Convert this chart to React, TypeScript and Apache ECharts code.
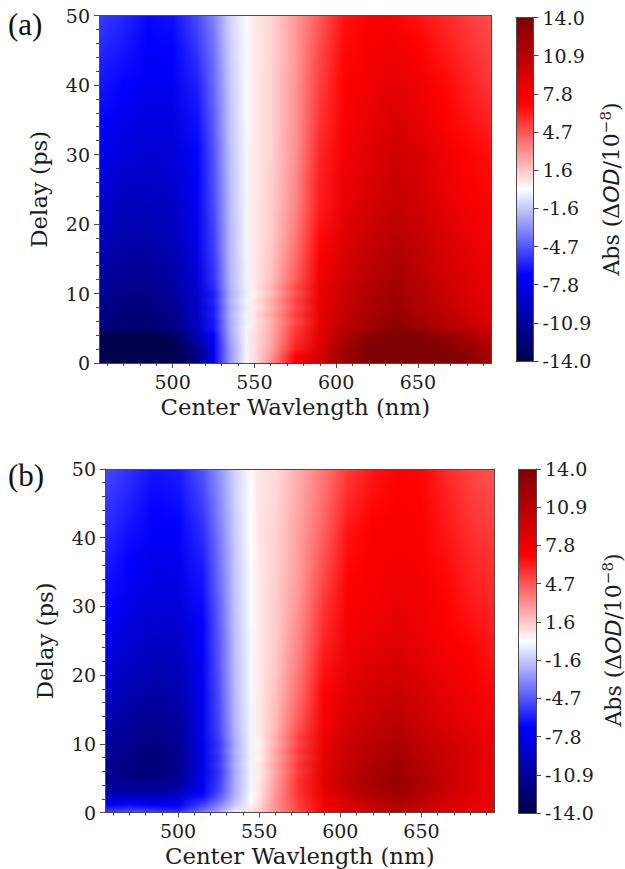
import React, { useEffect, useRef } from "react";
import * as echarts from "echarts";

const wavelengths = [455, 470, 485, 500, 515, 525, 535, 545, 550, 560, 575, 590, 605, 620, 635, 650, 665, 680, 695];
const delays = [0, 1, 2, 3, 4, 5, 6, 7, 8, 9, 10, 11, 12, 14, 16, 18, 20, 23, 26, 30, 35, 40, 45, 50];

const panelA = [
  [-14, -14, -14, -14, -12, -7.6, -3, -0.2, 0.9, 3.2, 7.4, 9.8, 12.6, 14, 14, 14, 14, 13.6, 12],
  [-14, -14, -14, -14, -12, -7.8, -3, -0.3, 0.9, 2.8, 7, 9.5, 12.4, 14, 14, 14, 14, 13.2, 11.6],
  [-14, -14, -14, -14, -11.6, -7.6, -3, -0.3, 0.9, 2.5, 6.2, 9.1, 12.2, 14, 14, 14, 14, 13, 11.4],
  [-14, -14, -14, -13.8, -11, -7.3, -2.8, -0.3, 0.9, 2.3, 5.8, 8.8, 11.8, 13.8, 14, 14, 13.6, 12.4, 10.9],
  [-13.8, -14, -14, -13.2, -10.2, -7, -2.6, -0.3, 0.9, 2.3, 5.6, 8.5, 11.4, 13.2, 14, 13.9, 12.8, 11.6, 10.3],
  [-12.2, -12.6, -12.6, -12, -9.6, -6.4, -2.4, -0.2, 0.8, 2.2, 5.4, 8.4, 10.8, 12.2, 13.5, 12.8, 11.6, 10.6, 9.6],
  [-12, -12.4, -12.4, -11.8, -9.4, -6.5, -2.5, -0.4, 0.6, 2.1, 4.9, 8.2, 10.5, 12, 13, 12, 11, 10, 9],
  [-11.8, -12.2, -12.2, -11.6, -9.3, -6.2, -2.2, -0.3, 0.8, 2.4, 5.3, 8.3, 10.3, 11.7, 12.7, 11.7, 10.7, 9.7, 8.8],
  [-11.6, -12, -12, -11.4, -9.2, -6.4, -2.5, -0.5, 0.5, 2, 4.8, 8.1, 10.2, 11.5, 12.5, 11.5, 10.4, 9.4, 8.6],
  [-11.4, -11.9, -11.9, -11.2, -9.1, -6.1, -2.2, -0.3, 0.7, 2.3, 5.2, 8.2, 10, 11.3, 12.3, 11.3, 10.2, 9.2, 8.3],
  [-11.2, -11.7, -11.7, -11, -9, -6.3, -2.4, -0.5, 0.4, 1.8, 4.6, 8, 9.9, 11.2, 12.2, 11.2, 10, 9, 8.2],
  [-11, -11.5, -11.5, -10.8, -8.8, -5.9, -2.2, -0.4, 0.6, 2, 5, 7.9, 9.8, 11, 12, 11, 9.9, 8.9, 8.1],
  [-10.8, -11.3, -11.3, -10.6, -8.6, -5.7, -2.1, -0.4, 0.6, 1.7, 4.4, 7.6, 9.6, 10.8, 11.8, 10.9, 9.8, 8.8, 8],
  [-10.4, -11, -11, -10.4, -8.4, -5.6, -2.1, -0.4, 0.6, 1.6, 4.2, 7.3, 9.4, 10.5, 11.5, 10.7, 9.5, 8.6, 7.9],
  [-10, -10.6, -10.6, -10.1, -8.1, -5.4, -2.05, -0.3, 0.6, 1.5, 3.9, 7, 9.1, 10.2, 11.2, 10.5, 9.3, 8.4, 7.7],
  [-9.7, -10.3, -10.3, -9.8, -7.9, -5.3, -2, -0.3, 0.6, 1.4, 3.7, 6.8, 8.8, 9.9, 10.9, 10.2, 9.1, 8.2, 7.5],
  [-9.4, -10, -10, -9.6, -7.7, -5.2, -2, -0.3, 0.6, 1.4, 3.5, 6.5, 8.6, 9.6, 10.6, 10, 8.9, 8, 7.3],
  [-8.9, -9.6, -9.6, -9.3, -7.5, -5, -1.95, -0.3, 0.6, 1.3, 3.3, 6.3, 8.2, 9.2, 10.2, 9.6, 8.5, 7.6, 7],
  [-8.3, -9.1, -9.2, -9, -7.3, -4.9, -1.9, -0.3, 0.6, 1.3, 3.2, 6.2, 8, 8.9, 9.9, 9.4, 8.2, 7.3, 6.8],
  [-7.6, -8.4, -8.8, -8.6, -7, -4.8, -1.8, -0.3, 0.6, 1.2, 3, 6, 7.7, 8.6, 9.6, 9.1, 8, 7, 6.6],
  [-7, -7.7, -8.2, -8.1, -6.6, -4.5, -1.7, -0.2, 0.6, 1.2, 2.9, 5.6, 7.3, 8.2, 9, 8.4, 7.3, 6.6, 6],
  [-6.4, -7, -7.6, -7.6, -6.2, -4.2, -1.6, -0.2, 0.6, 1.2, 2.9, 5.3, 7, 7.8, 8.5, 7.9, 6.9, 6.2, 5.5],
  [-5.9, -6.5, -7.1, -7, -5.6, -3.9, -1.4, -0.2, 0.6, 1.1, 2.8, 5, 6.8, 7.5, 7.9, 7.2, 6.4, 5.8, 5.2],
  [-5.4, -6, -6.8, -6.6, -5, -3.5, -1.2, -0.1, 0.6, 1.1, 2.8, 4.6, 6.5, 7.1, 7.2, 6.5, 6, 5.4, 4.8],
];

const panelB = [
  [-5, -4.6, -5, -5.5, -3.6, -2.3, -0.3, 1, 1.5, 3, 5.2, 7.4, 8.6, 9.6, 10.3, 9.7, 9, 8.3, 7.8],
  [-6.8, -6.4, -6.8, -7, -5, -3.4, -1.4, 0.4, 1.1, 3, 5.4, 7.6, 9, 10.2, 11, 10.2, 9.3, 8.4, 7.9],
  [-8.8, -8.6, -8.8, -8.4, -6.2, -4.3, -2, 0, 0.8, 3, 5.6, 8, 9.6, 11, 11.8, 10.8, 9.6, 8.6, 8],
  [-10.2, -10.2, -10.4, -9.8, -7.2, -5, -2.3, -0.2, 0.7, 2.8, 5.8, 8.3, 10.2, 11.4, 12.3, 11.2, 9.9, 8.8, 8.1],
  [-11, -11.2, -11.4, -10.8, -7.7, -5.4, -2.3, -0.3, 0.7, 2.7, 5.8, 8.5, 10.5, 11.7, 12.5, 11.4, 10.2, 8.9, 8.1],
  [-11.4, -11.8, -12, -11.2, -7.8, -5.5, -2.3, -0.3, 0.6, 2.6, 5.8, 8.6, 10.6, 11.8, 12.6, 11.3, 10.2, 9, 8.1],
  [-11.4, -11.9, -12.2, -11.6, -7.9, -5.7, -2.4, -0.4, 0.5, 2.4, 5.5, 8.5, 10.4, 11.6, 12.4, 11.2, 10.1, 9, 8.1],
  [-11.3, -11.9, -12.2, -11.6, -7.9, -5.4, -2.2, -0.3, 0.6, 2.6, 5.7, 8.4, 10.3, 11.4, 12.2, 11, 10, 8.9, 8.1],
  [-11.2, -11.8, -12.2, -11.6, -7.9, -5.7, -2.4, -0.4, 0.4, 2.3, 5.3, 8.3, 10.1, 11.2, 12, 10.8, 9.9, 8.9, 8],
  [-11, -11.6, -12, -11.5, -7.9, -5.4, -2.2, -0.3, 0.5, 2.5, 5.6, 8.3, 10, 11, 11.8, 10.6, 9.8, 8.9, 8],
  [-10.8, -11.4, -11.9, -11.4, -7.9, -5.6, -2.4, -0.4, 0.4, 2.1, 5.2, 8.2, 9.9, 10.9, 11.5, 10.4, 9.6, 8.8, 8],
  [-10.6, -11.2, -11.7, -11.3, -7.9, -5.3, -2.2, -0.3, 0.5, 2.3, 5.4, 8, 9.7, 10.6, 11.2, 10.2, 9.4, 8.6, 7.8],
  [-10.4, -11, -11.5, -11.1, -7.9, -5.2, -2.1, -0.3, 0.6, 2, 5, 7.7, 9.5, 10.4, 11, 10, 9.2, 8.4, 7.6],
  [-10, -10.7, -11.2, -10.8, -7.8, -5.1, -2, -0.3, 0.6, 1.9, 4.6, 7.4, 9.2, 10, 10.6, 9.7, 8.9, 8.1, 7.3],
  [-9.6, -10.4, -10.9, -10.5, -7.7, -5, -2, -0.2, 0.6, 1.8, 4.3, 7.1, 8.9, 9.6, 10.2, 9.4, 8.6, 7.9, 7.1],
  [-9.2, -10, -10.5, -10.2, -7.6, -4.9, -1.95, -0.2, 0.6, 1.7, 4.1, 6.9, 8.6, 9.3, 9.8, 9.1, 8.3, 7.6, 6.9],
  [-8.8, -9.6, -10.2, -9.9, -7.5, -4.8, -1.9, -0.2, 0.6, 1.6, 3.9, 6.6, 8.3, 9, 9.4, 8.8, 8, 7.4, 6.7],
  [-8.2, -9, -9.7, -9.5, -7.3, -4.7, -1.85, -0.2, 0.6, 1.5, 3.6, 6.3, 8, 8.6, 9, 8.4, 7.6, 7.1, 6.4],
  [-7.7, -8.5, -9.2, -9.1, -7.1, -4.6, -1.8, -0.2, 0.6, 1.4, 3.4, 5.9, 7.7, 8.1, 8.6, 8.1, 7.3, 6.8, 6.2],
  [-7, -7.8, -8.6, -8.5, -6.8, -4.4, -1.7, -0.1, 0.6, 1.4, 3.1, 5.6, 7.3, 7.6, 8.2, 7.8, 7, 6.4, 6],
  [-6.4, -7.2, -8, -7.8, -6.4, -4.1, -1.6, -0.1, 0.6, 1.3, 2.8, 5, 6.9, 7.4, 7.8, 7.5, 6.8, 6.1, 5.7],
  [-5.9, -6.7, -7.4, -7.2, -5.9, -3.8, -1.5, 0, 0.7, 1.2, 2.7, 4.5, 6.6, 7.2, 7.4, 7.2, 6.5, 5.8, 5.4],
  [-5.5, -6.2, -6.9, -6.7, -5.3, -3.4, -1.35, 0, 0.7, 1.1, 2.5, 4.1, 6, 6.8, 7.2, 7, 6.2, 5.5, 5],
  [-5, -5.7, -6.5, -6.3, -4.8, -3.1, -1.2, 0.1, 0.7, 1, 2.3, 3.8, 5.4, 6.4, 7, 6.9, 5.9, 5.2, 4.7],
];

const xTicks = [500, 550, 600, 650];
const xMinorTicks = [460, 470, 480, 490, 510, 520, 530, 540, 560, 570, 580, 590, 610, 620, 630, 640, 660, 670, 680, 690];
const cbTicks = [-14, -10.89, -7.78, -4.67, -1.56, 1.56, 4.67, 7.78, 10.89, 14];
const cbStops = [14, 7, 0, -7, -14];
const cmapAnchors = [[0, 0, 76], [0, 0, 255], [255, 255, 255], [255, 0, 0], [127, 0, 0]];

const SERIF = "DejaVu Serif";
const INK = "#1c1c1c";
const SPINE = "#4a4a4a";

function seismic(v: number): string {
  const t = Math.max(0, Math.min(0.99999, (v + 14) / 28)) * 4;
  const i = Math.floor(t);
  const f = t - i;
  const a = cmapAnchors[i];
  const b = cmapAnchors[i + 1];
  const c = a.map((x, k) => Math.round(x + (b[k] - x) * f));
  return `rgb(${c[0]},${c[1]},${c[2]})`;
}

// Shades the band between two read rows, like matplotlib's smooth shading does.
function heatRenderItem(rows: number[][]) {
  return (params: any, api: any) => {
    const i = params.dataIndex;
    if (i >= delays.length - 1) return { type: "group", children: [] };
    const x0 = api.coord([wavelengths[0], delays[i]])[0];
    const x1 = api.coord([wavelengths[wavelengths.length - 1], delays[i]])[0];
    const yA = api.coord([wavelengths[0], delays[i]])[1];
    const yB = api.coord([wavelengths[0], delays[i + 1]])[1];
    const n = Math.max(1, Math.ceil((yA - yB) / 2));
    const h = (yA - yB) / n;
    const children: any[] = [];
    for (let s = 0; s < n; s++) {
      const f = (s + 0.5) / n;
      const stops = wavelengths.map((w, k) => ({
        offset: (w - wavelengths[0]) / (wavelengths[wavelengths.length - 1] - wavelengths[0]),
        color: seismic(rows[i][k] + (rows[i + 1][k] - rows[i][k]) * f),
      }));
      children.push({
        type: "rect",
        shape: { x: x0, y: yA - h * (s + 1) - 0.5, width: x1 - x0, height: h + 1 },
        style: { fill: new echarts.graphic.LinearGradient(0, 0, 1, 0, stops, false) },
      });
    }
    return { type: "group", children };
  };
}

function cbRenderItem(params: any, api: any) {
  const p0 = api.coord([0, 14]);
  const p1 = api.coord([1, -14]);
  const stops = cbStops.map((v) => ({ offset: (14 - v) / 28, color: seismic(v) }));
  return {
    type: "rect",
    shape: { x: p0[0], y: p0[1], width: p1[0] - p0[0], height: p1[1] - p0[1] },
    style: { fill: new echarts.graphic.LinearGradient(0, 0, 0, 1, stops, false) },
  };
}

const lineOnly = { show: true, lineStyle: { color: SPINE, width: 1 }, onZero: false };

function buildOption() {
  const grids: any[] = [];
  const xAxes: any[] = [];
  const yAxes: any[] = [];
  const series: any[] = [];

  const panels = [
    { rows: panelA, g: [99, 15.5, 392.5, 347.5], cb: [516, 17.5, 17.5, 343.5], yGap: 49 },
    { rows: panelB, g: [105, 469, 389.5, 343.5], cb: [518.5, 469, 17.5, 344], yGap: 49 },
  ];

  panels.forEach((p) => {
    const gi = grids.length;
    grids.push({ left: p.g[0], top: p.g[1], width: p.g[2], height: p.g[3], outerBoundsMode: "none" });
    const xi = xAxes.length;
    xAxes.push({
      type: "value", gridIndex: gi, position: "bottom", min: 455, max: 695, z: 5,
      name: "Center Wavlength (nm)", nameLocation: "middle", nameGap: 32, nameMoveOverlap: false,
      nameTextStyle: { fontFamily: SERIF, fontSize: 22.8, color: INK },
      axisLine: lineOnly,
      axisTick: { show: true, length: 5, customValues: xTicks, lineStyle: { color: SPINE } },
      axisLabel: { show: true, customValues: xTicks, fontFamily: SERIF, fontSize: 19, color: INK, margin: 9 },
      splitLine: { show: false },
    });
    xAxes.push({
      type: "value", gridIndex: gi, position: "bottom", min: 455, max: 695, z: 5,
      axisLine: { show: false },
      axisTick: { show: true, length: 3, customValues: xMinorTicks, lineStyle: { color: SPINE } },
      axisLabel: { show: false }, splitLine: { show: false },
    });
    xAxes.push({
      type: "value", gridIndex: gi, position: "top", min: 455, max: 695, z: 5,
      axisLine: lineOnly, axisTick: { show: false }, axisLabel: { show: false }, splitLine: { show: false },
    });
    const yi = yAxes.length;
    yAxes.push({
      type: "value", gridIndex: gi, position: "left", min: 0, max: 50, interval: 10, z: 5,
      name: "Delay (ps)", nameLocation: "middle", nameGap: p.yGap, nameRotate: 90, nameMoveOverlap: false,
      nameTextStyle: { fontFamily: SERIF, fontSize: 22.8, color: INK },
      axisLine: lineOnly,
      axisTick: { show: true, length: 5, lineStyle: { color: SPINE } },
      minorTick: { show: true, splitNumber: 5, length: 3, lineStyle: { color: SPINE } },
      axisLabel: { show: true, fontFamily: SERIF, fontSize: 19, color: INK, margin: 9 },
      splitLine: { show: false }, minorSplitLine: { show: false },
    });
    yAxes.push({
      type: "value", gridIndex: gi, position: "right", min: 0, max: 50, z: 5,
      axisLine: lineOnly, axisTick: { show: false }, axisLabel: { show: false }, splitLine: { show: false },
    });
    series.push({
      type: "custom", xAxisIndex: xi, yAxisIndex: yi, coordinateSystem: "cartesian2d", clip: true, silent: true,
      renderItem: heatRenderItem(p.rows),
      data: delays.map((d) => [wavelengths[0], d]),
      encode: { x: 0, y: 1 },
    });

    const ci = grids.length;
    grids.push({ left: p.cb[0], top: p.cb[1], width: p.cb[2], height: p.cb[3], outerBoundsMode: "none" });
    const cxi = xAxes.length;
    xAxes.push({
      type: "value", gridIndex: ci, position: "bottom", min: 0, max: 1, z: 5,
      axisLine: lineOnly, axisTick: { show: false }, axisLabel: { show: false }, splitLine: { show: false },
    });
    xAxes.push({
      type: "value", gridIndex: ci, position: "top", min: 0, max: 1, z: 5,
      axisLine: lineOnly, axisTick: { show: false }, axisLabel: { show: false }, splitLine: { show: false },
    });
    const cyi = yAxes.length;
    yAxes.push({
      type: "value", gridIndex: ci, position: "right", min: -14, max: 14, z: 5,
      axisLine: lineOnly,
      axisTick: { show: true, length: 5, customValues: cbTicks, lineStyle: { color: SPINE } },
      axisLabel: {
        show: true, customValues: cbTicks, fontFamily: SERIF, fontSize: 19, color: INK, margin: 9,
        formatter: (v: number) => v.toFixed(1),
      },
      splitLine: { show: false },
    });
    yAxes.push({
      type: "value", gridIndex: ci, position: "left", min: -14, max: 14, z: 5,
      axisLine: lineOnly, axisTick: { show: false }, axisLabel: { show: false }, splitLine: { show: false },
    });
    series.push({
      type: "custom", xAxisIndex: cxi, yAxisIndex: cyi, coordinateSystem: "cartesian2d", silent: true,
      renderItem: cbRenderItem, data: [[0, -14]], encode: { x: 0, y: 1 },
    });
  });

  const absText = (x: number, y: number) => ({
    type: "text", x, y, rotation: Math.PI / 2,
    style: {
      text: "{a|Abs (Δ}{i|OD}{a|/10}{s|−8}{a|)}",
      align: "center", verticalAlign: "middle",
      rich: {
        a: { fontFamily: SERIF, fontSize: 22, fill: INK },
        i: { fontFamily: "DejaVu Sans", fontStyle: "italic", fontSize: 22, fill: INK },
        s: { fontFamily: SERIF, fontSize: 15, fill: INK, padding: [0, 0, 10, 0] },
      },
    },
  });
  const letter = (t: string, x: number, y: number) => ({
    type: "text", x, y,
    style: { text: t, fontFamily: "Liberation Serif", fontSize: 31, fill: "#111", align: "left", verticalAlign: "top" },
  });

  return {
    animation: false,
    backgroundColor: "#ffffff",
    grid: grids,
    xAxis: xAxes,
    yAxis: yAxes,
    series,
    graphic: [
      letter("(a)", 8, 9),
      letter("(b)", 8, 460),
      absText(611, 189),
      absText(613, 640),
    ],
  };
}

export default function App() {
  const ref = useRef<HTMLDivElement>(null);
  useEffect(() => {
    document.body.style.margin = "0";
    const chart = echarts.init(ref.current!, undefined, { renderer: "svg", width: 625, height: 869 });
    chart.setOption(buildOption());
    return () => chart.dispose();
  }, []);
  return <div ref={ref} style={{ width: 625, height: 869 }} />;
}
